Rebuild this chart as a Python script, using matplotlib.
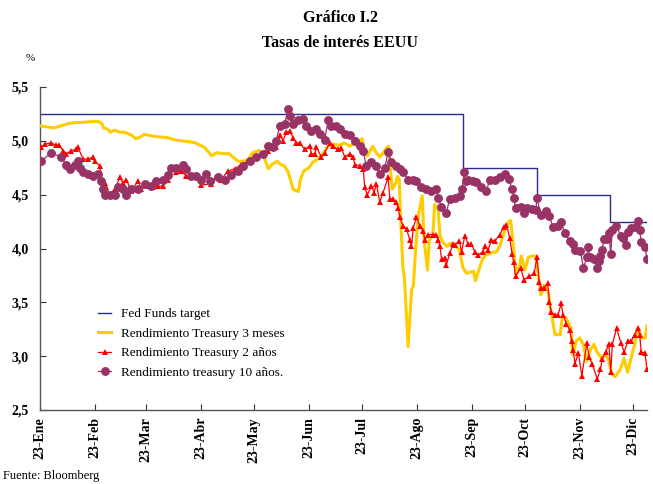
import matplotlib
matplotlib.use("Agg")
import matplotlib.pyplot as plt
import pandas as pd

plt.rcParams['font.family'] = ['Liberation Serif', 'DejaVu Serif']

START = pd.Timestamp("2024-01-23")
END_DAY = 343

# Fed Funds target (lower bound): change days (offset from START) and levels
ff_days = [0, 239, 281, 322, 343]
ff_levels = [5.25, 4.75, 4.50, 4.25, 4.25]

# Treasury 3 months (day offsets and values)
t3m_days = [0, 4, 8, 12, 16, 20, 23, 30, 33, 35, 36, 38, 40, 42, 45, 48, 52, 54, 56, 59,
            62, 65, 72, 76, 80, 85, 88, 89, 93, 97, 100, 104, 107, 109, 112, 115, 118, 120, 124, 127,
            129, 131, 134, 136, 138, 140, 142, 143, 146, 147, 149, 152, 154, 157, 160, 162, 165, 169, 172, 175,
            178, 180, 182, 184, 185, 188, 190, 192, 194, 196, 197, 199, 201, 202, 203, 204, 205, 206, 207, 208,
            210, 211, 212, 213, 214, 216, 217, 219, 220, 222, 223, 225, 226, 228, 230, 232, 233, 235, 237, 239,
            241, 245, 246, 248, 250, 252, 255, 258, 260, 263, 265, 266, 268, 269, 271, 272, 274, 276, 278, 280,
            281, 283, 285, 287, 289, 291, 294, 295, 297, 300, 301, 303, 305, 307, 309, 311, 313, 315, 317, 319,
            321, 323, 325, 328, 330, 332, 334, 336, 338, 340, 342, 343]
t3m_vals = [5.14, 5.13, 5.12, 5.14, 5.16, 5.17, 5.17, 5.18, 5.18, 5.16, 5.12, 5.11, 5.08, 5.10, 5.08, 5.08, 5.05, 5.02, 5.03, 5.06,
            5.05, 5.04, 5.03, 5.01, 5.00, 4.99, 4.98, 4.97, 4.94, 4.86, 4.89, 4.88, 4.88, 4.85, 4.81, 4.81, 4.83, 4.89, 4.91, 4.83,
            4.74, 4.78, 4.81, 4.78, 4.77, 4.72, 4.61, 4.55, 4.53, 4.63, 4.72, 4.75, 4.80, 4.83, 4.88, 4.94, 4.97, 4.96, 4.98, 4.95,
            4.98, 4.99, 5.02, 4.88, 4.86, 4.95, 4.89, 4.85, 4.89, 4.94, 4.95, 4.55, 4.61, 4.67, 4.64, 4.21, 3.84, 3.71, 3.40, 3.09,
            3.62, 3.65, 3.93, 4.15, 4.33, 4.49, 4.08, 3.80, 4.08, 4.12, 4.41, 4.36, 4.12, 4.05, 4.02, 4.05, 4.02, 4.02, 3.99, 3.82,
            3.77, 3.79, 3.70, 3.80, 3.90, 3.94, 3.96, 3.97, 4.03, 4.19, 4.25, 4.26, 3.93, 3.77, 3.84, 3.93, 3.80, 3.92, 3.93, 3.93,
            3.84, 3.57, 3.66, 3.61, 3.39, 3.20, 3.20, 3.36, 3.36, 3.26, 3.01, 3.14, 3.17, 3.11, 2.95, 3.06, 3.11, 3.03, 2.99, 3.01,
            2.98, 2.84, 2.81, 2.88, 2.98, 2.85, 2.98, 3.11, 3.26, 3.17, 3.17, 3.28]

# Treasury 2 years (day offsets and values)
t2y_days = [0.7, 2.7, 6.4, 9.0, 10.7, 13.0, 14.9, 17.7, 20.5, 21.5, 24.3, 27.1, 30.0, 30.9, 33.7, 35.0, 36.6, 37.5, 39.4, 42.2,
            45.1, 46.9, 48.8, 51.6, 55.4, 57.3, 61.1, 63.9, 66.7, 69.5, 72.4, 74.2, 77.0, 79.9, 82.7, 85.5, 88.2, 91.2, 96.7, 99.5,
            102.3, 106.3, 110.1, 113.6, 117.6, 121.4, 125.1, 128.9, 133.6, 135.5, 137.4, 139.2, 141.2, 143.0, 144.9, 146.8, 149.6, 152.5, 153.4, 155.3,
            156.2, 159.0, 160.9, 163.8, 165.6, 168.5, 170.3, 172.2, 175.1, 176.9, 177.9, 180.7, 182.6, 183.5, 185.0, 187.3, 188.8, 190.1, 192.0, 193.9,
            196.7, 197.7, 199.5, 201.4, 202.4, 203.3, 205.2, 207.1, 209.0, 209.9, 210.9, 212.7, 214.6, 216.5, 217.5, 219.3, 222.2, 224.0, 225.0, 226.0,
            226.9, 228.8, 229.7, 231.6, 233.5, 234.4, 237.0, 238.2, 240.1, 241.9, 243.8, 245.7, 247.6, 250.4, 251.4, 253.3, 255.1, 257.0, 259.9, 262.0,
            263.6, 265.4, 266.8, 267.7, 268.7, 271.6, 273.5, 276.4, 279.3, 280.8, 282.1, 283.1, 285.0, 286.9, 287.9, 288.9, 290.8, 292.7, 294.5, 295.6,
            297.5, 299.4, 300.4, 301.3, 302.3, 304.2, 306.2, 309.0, 310.3, 312.0, 314.9, 316.7, 317.7, 319.6, 321.5, 322.5, 323.4, 325.8, 328.3, 330.1,
            332.2, 334.1, 336.0, 337.9, 338.9, 339.7, 341.8, 343.0]
t2y_vals = [4.94, 4.97, 4.98, 4.96, 4.96, 4.91, 4.88, 4.91, 4.92, 4.94, 4.83, 4.83, 4.85, 4.81, 4.77, 4.64, 4.61, 4.57, 4.50, 4.55,
            4.66, 4.61, 4.64, 4.53, 4.63, 4.55, 4.58, 4.57, 4.58, 4.58, 4.64, 4.75, 4.71, 4.72, 4.67, 4.66, 4.68, 4.59, 4.60, 4.66,
            4.64, 4.72, 4.74, 4.78, 4.81, 4.85, 4.88, 4.91, 4.94, 5.05, 5.00, 5.08, 5.09, 5.03, 4.98, 4.98, 4.92, 4.95, 4.88, 4.88,
            4.94, 4.85, 4.89, 4.98, 4.95, 4.92, 4.93, 4.85, 4.88, 4.85, 4.78, 4.77, 4.74, 4.57, 4.50, 4.58, 4.52, 4.60, 4.43, 4.52,
            4.66, 4.46, 4.46, 4.43, 4.38, 4.29, 4.21, 4.18, 4.08, 4.02, 4.19, 4.29, 4.21, 4.16, 4.08, 4.13, 4.13, 4.13, 4.08, 4.02,
            3.90, 3.91, 3.85, 3.96, 4.04, 4.03, 4.07, 3.97, 4.12, 4.04, 4.04, 3.97, 3.94, 3.97, 4.02, 3.99, 4.08, 4.07, 4.13, 4.20,
            4.22, 4.10, 3.95, 3.87, 3.74, 3.82, 3.71, 3.74, 3.77, 3.92, 3.69, 3.63, 3.63, 3.68, 3.50, 3.41, 3.38, 3.38, 3.49, 3.38,
            3.30, 3.24, 3.14, 3.06, 2.93, 3.03, 2.82, 3.12, 2.99, 2.93, 2.79, 2.88, 2.97, 3.04, 3.11, 2.85, 3.11, 3.26, 3.12, 3.04,
            3.14, 3.14, 3.20, 3.26, 3.20, 3.04, 3.03, 2.88]

# Treasury 10 years (day offsets and values)
t10y_days = [0.7, 6.2, 11.9, 14.7, 16.8, 19.6, 21.5, 22.4, 24.3, 27.1, 30.0, 32.8, 34.5, 35.6, 36.6, 39.4, 42.2, 44.1, 46.9, 48.6,
             51.4, 55.4, 59.2, 62.7, 65.6, 69.5, 72.4, 74.1, 76.9, 80.8, 82.5, 85.4, 88.2, 91.0, 93.8, 96.1, 100.6, 104.4, 108.0, 111.9,
             114.8, 118.5, 122.1, 126.1, 128.9, 131.7, 133.4, 135.5, 138.3, 140.2, 141.2, 143.0, 145.8, 148.7, 150.4, 153.2, 156.0, 158.1, 160.9, 162.8,
             164.5, 167.3, 169.4, 172.2, 175.1, 177.9, 180.7, 182.6, 184.3, 187.1, 189.9, 192.0, 194.9, 196.7, 198.4, 201.2, 203.3, 205.2, 208.0, 210.9,
             212.5, 215.4, 218.2, 221.0, 223.9, 225.0, 226.7, 229.5, 231.6, 234.4, 237.3, 238.6, 239.7, 240.6, 241.9, 244.8, 246.5, 249.3, 252.1, 254.2,
             257.0, 259.9, 262.7, 264.8, 266.8, 267.7, 268.7, 271.6, 273.5, 275.3, 278.1, 280.2, 280.8, 283.1, 286.0, 287.9, 289.8, 292.7, 294.5, 296.5,
             299.4, 301.3, 302.3, 305.3, 307.1, 309.0, 309.7, 310.9, 312.9, 314.9, 315.8, 316.7, 317.7, 318.6, 320.5, 321.5, 322.5, 323.4, 325.4, 328.3,
             329.2, 331.3, 332.2, 334.1, 336.9, 337.9, 338.9, 339.7, 342.0, 343.0]
t10y_vals = [4.81, 4.89, 4.85, 4.78, 4.74, 4.78, 4.81, 4.75, 4.71, 4.69, 4.67, 4.69, 4.63, 4.55, 4.50, 4.50, 4.50, 4.57, 4.55, 4.50,
             4.55, 4.55, 4.60, 4.58, 4.63, 4.64, 4.68, 4.75, 4.75, 4.78, 4.74, 4.67, 4.67, 4.64, 4.69, 4.63, 4.66, 4.64, 4.68, 4.72,
             4.77, 4.81, 4.85, 4.88, 4.95, 4.94, 5.00, 5.14, 5.16, 5.30, 5.23, 5.16, 5.19, 5.20, 5.14, 5.09, 5.11, 5.06, 5.01, 5.19,
             5.14, 5.14, 5.11, 5.06, 5.05, 5.00, 4.95, 4.91, 4.77, 4.80, 4.77, 4.69, 4.75, 4.90, 4.80, 4.77, 4.74, 4.71, 4.64, 4.64,
             4.63, 4.57, 4.55, 4.53, 4.55, 4.47, 4.39, 4.33, 4.46, 4.47, 4.49, 4.55, 4.71, 4.63, 4.64, 4.63, 4.62, 4.57, 4.53, 4.64,
             4.64, 4.66, 4.69, 4.65, 4.55, 4.47, 4.38, 4.39, 4.33, 4.38, 4.37, 4.36, 4.47, 4.31, 4.35, 4.30, 4.20, 4.21, 4.25, 4.14,
             4.07, 4.04, 3.99, 3.98, 3.82, 3.92, 4.01, 3.92, 3.90, 3.82, 3.88, 3.93, 3.99, 4.09, 4.09, 4.14, 3.95, 4.17, 4.21, 4.12,
             4.10, 4.03, 4.15, 4.19, 4.20, 4.26, 4.17, 4.06, 4.01, 3.90]

month_labels = ["23-Ene", "23-Feb", "23-Mar", "23-Abr", "23-May", "23-Jun",
                "23-Jul", "23-Ago", "23-Sep", "23-Oct", "23-Nov", "23-Dic"]
y_ticks = [2.5, 3.0, 3.5, 4.0, 4.5, 5.0, 5.5]
y_labels = ["2,5", "3,0", "3,5", "4,0", "4,5", "5,0", "5,5"]

series_names = ["Fed Funds target", "Rendimiento Treasury 3 meses",
                "Rendimiento Treasury 2 años", "Rendimiento treasury 10 años."]


def to_dates(days):
    return START + pd.to_timedelta(days, unit="D")


fig = plt.figure(figsize=(6.53, 4.84), dpi=100)
ax = fig.add_axes([40 / 653, 1 - 410 / 484, 607 / 653, 323 / 484])

ax.step(to_dates(ff_days), ff_levels, where="post", color="#2a2a95", lw=1.0,
        label=series_names[0], zorder=2)
ax.plot(to_dates(t3m_days), t3m_vals, color="#FFCC00", lw=2.2,
        label=series_names[1], zorder=3)
ax.plot(to_dates(t2y_days), t2y_vals, color="#FF0000", lw=0.9, marker="^",
        markersize=5, markeredgewidth=0, label=series_names[2], zorder=4)
ax.plot(to_dates(t10y_days), t10y_vals, color="#993366", lw=0.9, marker="o",
        markersize=6.4, markeredgewidth=0, label=series_names[3], zorder=5)

ax.set_ylim(2.5, 5.5)
ax.set_xlim(to_dates([0])[0], to_dates([END_DAY])[0])
ax.set_yticks(y_ticks)
ax.set_yticklabels(y_labels, fontweight="bold", fontsize=10)

tick_dates = [pd.Timestamp(2024, m, 23) for m in range(1, 13)]
ax.set_xticks(tick_dates)
ax.set_xticklabels(month_labels, rotation=90, fontweight="bold", fontsize=10)

for s in ["top", "right"]:
    ax.spines[s].set_visible(False)
for s in ["left", "bottom"]:
    ax.spines[s].set_color("#555555")
    ax.spines[s].set_linewidth(1.0)
ax.tick_params(axis="both", direction="in", length=4, color="#333333", width=0.8)
ax.tick_params(axis="y", pad=8)
ax.tick_params(axis="x", pad=5)

leg = ax.legend(loc="upper left", bbox_to_anchor=(0.096, 0.315), frameon=False,
                fontsize=9.5, handlelength=1.0, handletextpad=0.75,
                labelspacing=0.55, borderpad=0, borderaxespad=0)

fig.text(0.521, 0.963, "Gráfico I.2", ha="center", va="center",
         fontsize=11.5, fontweight="bold")
fig.text(0.521, 0.911, "Tasas de interés EEUU", ha="center", va="center",
         fontsize=11.5, fontweight="bold")
fig.text(0.040, 0.880, "%", ha="left", va="center", fontsize=8)
fig.text(0.005, 0.016, "Fuente: Bloomberg", ha="left", va="center", fontsize=9)

fig.savefig("out.png", dpi=100)
